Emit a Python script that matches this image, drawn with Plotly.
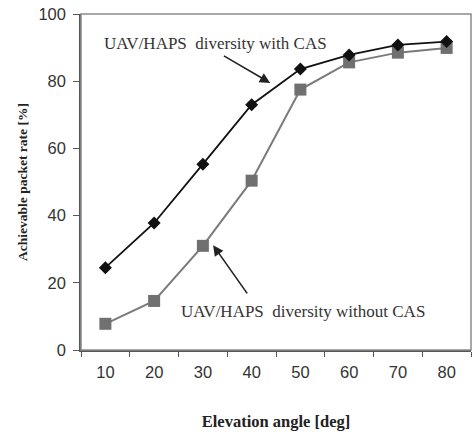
import plotly.graph_objects as go

angles = ["10", "20", "30", "40", "50", "60", "70", "80"]
with_cas = [24.5, 37.8, 55.3, 73.0, 83.6, 87.8, 90.8, 91.8]
without_cas = [7.8, 14.6, 31.0, 50.4, 77.5, 85.6, 88.5, 89.9]

fig = go.Figure()
fig.add_trace(go.Scatter(x=angles, y=without_cas, mode="lines+markers",
                         line=dict(color="#7a7a7a", width=2),
                         marker=dict(symbol="square", size=12, color="#707070"),
                         showlegend=False))
fig.add_trace(go.Scatter(x=angles, y=with_cas, mode="lines+markers",
                         line=dict(color="#111111", width=1.8),
                         marker=dict(symbol="diamond", size=10, color="#111111"),
                         showlegend=False))

fig.add_shape(type="rect", xref="paper", yref="paper", x0=0, y0=0, x1=1, y1=1,
              line=dict(color="#8a8a8a", width=1.5))

serif = "Liberation Serif, Times New Roman, serif"
fig.add_annotation(x=3.38, y=79.5, ax=2.4, ay=87.8, xref="x", yref="y", axref="x", ayref="y",
                   text="", showarrow=True, arrowhead=2, arrowsize=1.3, arrowwidth=1.6, arrowcolor="#222")
fig.add_annotation(x=2.21, y=31.2, ax=2.93, ay=16.4, xref="x", yref="y", axref="x", ayref="y",
                   text="", showarrow=True, arrowhead=2, arrowsize=1.3, arrowwidth=1.6, arrowcolor="#222")
fig.add_annotation(x=2.26, y=91.1, text="UAV/HAPS  diversity with CAS", showarrow=False,
                   font=dict(family=serif, size=17, color="#333"))
fig.add_annotation(x=4.06, y=11.6, text="UAV/HAPS  diversity without CAS", showarrow=False,
                   font=dict(family=serif, size=17, color="#333"))

fig.update_xaxes(type="category", range=[-0.5, 7.5], tickson="boundaries",
                 ticks="outside", ticklen=5, tickcolor="#555", ticklabelstandoff=6,
                 showline=True, linecolor="#555", linewidth=1.5, showgrid=False,
                 tickfont=dict(family="Liberation Sans, Arial", size=16.5, color="#333"),
                 title=dict(text="<b>Elevation angle [deg]</b>", standoff=36,
                            font=dict(family=serif, size=16.5, color="#222")))
fig.update_yaxes(range=[0, 100], dtick=20, ticks="outside", ticklen=6, tickcolor="#555",
                 ticklabelstandoff=4,
                 showline=True, linecolor="#555", linewidth=1.5, showgrid=False, zeroline=False,
                 tickfont=dict(family="Liberation Sans, Arial", size=16.5, color="#333"),
                 title=dict(text="<b>Achievable packet rate [%]</b>", standoff=8,
                            font=dict(family=serif, size=13.5, color="#222")))

fig.update_layout(width=473, height=434, margin=dict(l=81, r=2, t=14, b=84),
                  plot_bgcolor="white", paper_bgcolor="white")
fig.write_html("out.html")
